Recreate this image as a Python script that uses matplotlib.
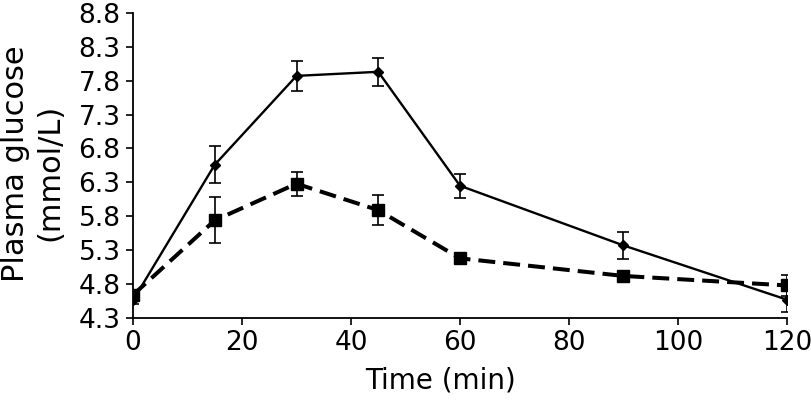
import matplotlib
matplotlib.use("Agg")
import matplotlib.pyplot as plt

time_min = [0, 15, 30, 45, 60, 90, 120]
solid_mean = [4.56, 6.56, 7.87, 7.93, 6.25, 5.37, 4.57]
solid_err = [0.06, 0.27, 0.22, 0.21, 0.18, 0.20, 0.18]
dashed_mean = [4.64, 5.74, 6.28, 5.89, 5.18, 4.92, 4.78]
dashed_err = [0.05, 0.34, 0.18, 0.22, 0.07, 0.07, 0.16]
y_ticks = [4.3, 4.8, 5.3, 5.8, 6.3, 6.8, 7.3, 7.8, 8.3, 8.8]
x_ticks = [0, 20, 40, 60, 80, 100, 120]

plt.rcParams['font.family'] = ['DejaVu Sans']
fig = plt.figure(figsize=(8.12, 4.0), dpi=100)
ax = fig.add_axes([0.1638, 0.205, 0.8054, 0.763])

ax.errorbar(time_min, solid_mean, yerr=solid_err, color='black', lw=1.7,
            marker='D', markersize=5.5, capsize=4, elinewidth=1.2, capthick=1.2,
            zorder=3)
ln, _, _ = ax.errorbar(time_min, dashed_mean, yerr=dashed_err, color='black', lw=2.9,
                       marker='s', markersize=8, capsize=4, elinewidth=1.2, capthick=1.2,
                       zorder=3)
ln.set_dashes((4.2, 2.0))

ax.set_xlim(0, 120)
ax.set_ylim(4.3, 8.8)
ax.set_xticks(x_ticks)
ax.set_yticks(y_ticks)
ax.set_yticklabels([f"{v:.1f}" for v in y_ticks])
ax.spines['top'].set_visible(False)
ax.spines['right'].set_visible(False)
ax.spines['left'].set_linewidth(1.3)
ax.spines['bottom'].set_linewidth(1.3)
ax.tick_params(axis='both', labelsize=19, width=1.2, length=5, direction='out')
ax.tick_params(axis='x', pad=4)
ax.tick_params(axis='y', pad=4)
ax.set_xlabel("Time (min)", fontsize=20, va='center')
ax.xaxis.set_label_coords(0.47, -0.205)
for spine in ax.spines.values():
    spine.set_clip_on(False)

fig.text(0.019, 0.59, "Plasma glucose", rotation=90, fontsize=22, ha='center', va='center')
fig.text(0.062, 0.57, "(mmol/L)", rotation=90, fontsize=22, ha='center', va='center')

fig.savefig("out.png", dpi=100)
